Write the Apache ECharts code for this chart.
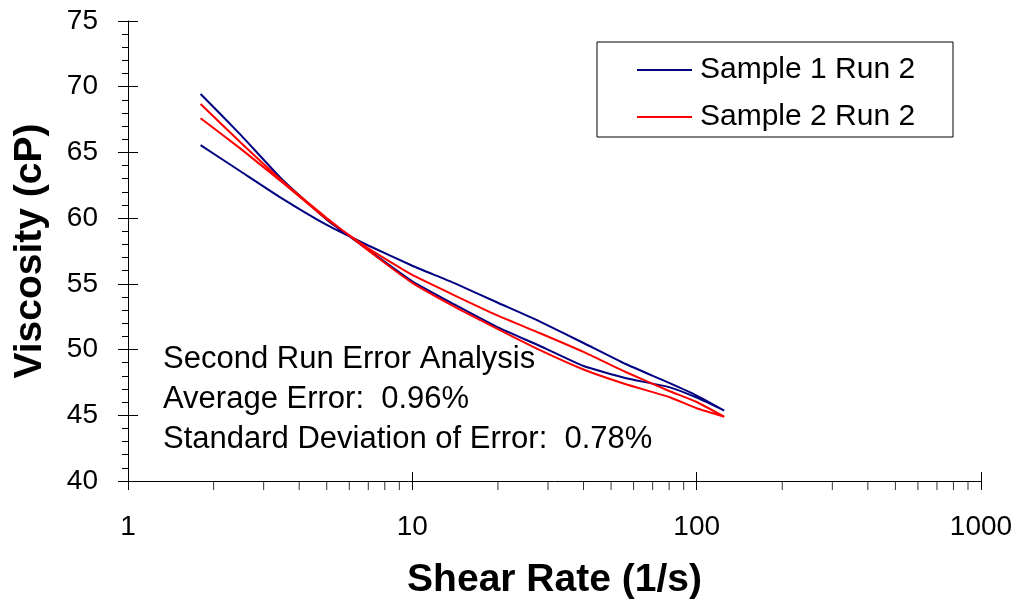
<!DOCTYPE html>
<html>
<head>
<meta charset="utf-8">
<script src="https://cdn.jsdelivr.net/npm/echarts@6/dist/echarts.min.js"></script>
<style>
  html, body { margin: 0; padding: 0; background: #fff; }
  #chart { width: 1023px; height: 609px; }
</style>
</head>
<body>
<div id="chart"></div>
<script>
// Shear rates of the ramp (1/s); each run goes up the ramp and back down
const shearRate = [1.8, 2.5, 3.5, 5, 7, 10, 14, 20, 28, 40, 56, 80, 100, 125];

// Viscosity (cP) on the rising and falling sweep, indexed like shearRate
const sample1Up   = [69.45, 66.30, 62.90, 59.88, 57.58, 55.19, 53.45, 51.69, 50.29, 48.75, 47.84, 47.14, 46.34, 45.36];
const sample1Down = [65.56, 63.53, 61.46, 59.48, 57.92, 56.38, 55.07, 53.56, 52.15, 50.50, 48.92, 47.46, 46.50, 45.36];
const sample2Up   = [68.69, 65.72, 62.80, 60.01, 57.54, 55.07, 53.28, 51.55, 49.97, 48.48, 47.38, 46.39, 45.54, 44.89];
const sample2Down = [67.60, 65.25, 62.70, 59.93, 57.70, 55.68, 54.15, 52.58, 51.26, 49.82, 48.31, 46.85, 46.01, 44.89];

const seriesNames = ['Sample 1 Run 2', 'Sample 2 Run 2'];
const noteLines = [
  'Second Run Error Analysis',
  'Average Error:  0.96%',
  'Standard Deviation of Error:  0.78%'
];

// Minor tick positions on the logarithmic shear-rate axis
const minorTickValues = [2, 3, 4, 5, 6, 7, 8, 9, 20, 30, 40, 50, 60, 70, 80, 90, 200, 300, 400, 500, 600, 700, 800, 900];

const FONT = '"Liberation Sans", Arial, sans-serif';

// Rising sweep followed by the falling sweep; the turning point is shared
function loop(up, down) {
  const pts = up.map((v, i) => [shearRate[i], v]);
  for (let i = down.length - 2; i >= 0; i--) pts.push([shearRate[i], down[i]]);
  return pts;
}

const chart = echarts.init(document.getElementById('chart'), null, { renderer: 'canvas' });

const yBase = { type: 'value', min: 40, max: 75, interval: 5, splitLine: { show: false } };
const xBase = { type: 'log', logBase: 10, min: 1, max: 1000, splitLine: { show: false } };

chart.setOption({
  backgroundColor: '#fff',
  animation: false,
  grid: { left: 128, right: 42, top: 21, bottom: 128, containLabel: false, outerBoundsMode: 'none' },
  xAxis: [
    Object.assign({}, xBase, {
      name: 'Shear Rate (1/s)',
      nameLocation: 'middle',
      nameGap: 80,
      nameTextStyle: { fontFamily: FONT, fontSize: 39, fontWeight: 'bold', color: '#000' },
      axisLine: { show: true, lineStyle: { color: '#000', width: 1 } },
      axisTick: { show: true, length: 9, lineStyle: { color: '#000' } },
      axisLabel: { fontFamily: FONT, fontSize: 28, color: '#000', margin: 32, formatter: v => String(v) }
    }),
    Object.assign({}, xBase, {
      position: 'bottom',
      axisLine: { show: false },
      axisTick: { show: true, inside: true, length: 9, lineStyle: { color: '#000' } },
      axisLabel: { show: false }
    })
  ],
  yAxis: [
    Object.assign({}, yBase, {
      name: 'Viscosity (cP)',
      nameLocation: 'middle',
      nameGap: 78,
      nameTextStyle: { fontFamily: FONT, fontSize: 39, fontWeight: 'bold', color: '#000' },
      axisLine: { show: true, lineStyle: { color: '#000', width: 1 } },
      axisTick: { show: true, length: 10, lineStyle: { color: '#000' } },
      minorTick: { show: true, splitNumber: 5, length: 6, lineStyle: { color: '#000' } },
      axisLabel: { fontFamily: FONT, fontSize: 28, color: '#000', margin: 30 }
    }),
    Object.assign({}, yBase, {
      position: 'left',
      axisLine: { show: false },
      axisTick: { show: true, inside: true, length: 10, lineStyle: { color: '#000' } },
      axisLabel: { show: false }
    })
  ],
  legend: {
    data: seriesNames.map(n => ({ name: n, icon: 'rect' })),
    orient: 'vertical',
    left: 637,
    top: 54,
    padding: 0,
    itemWidth: 55,
    itemHeight: 2,
    itemGap: 15,
    textStyle: { fontFamily: FONT, fontSize: 30, color: '#000', lineHeight: 32, padding: [0, 0, 0, 3] }
  },
  graphic: [
    {
      type: 'rect', z: 1,
      shape: { x: 597, y: 42, width: 356, height: 95 },
      style: { fill: '#fff', stroke: '#000', lineWidth: 1 }
    },
    ...noteLines.map((t, i) => ({
      type: 'text', z: 10,
      x: 163, y: 359 + i * 40,
      style: { text: t, fontFamily: FONT, fontSize: 31, fill: '#000', verticalAlign: 'middle' }
    }))
  ],
  series: [
    {
      name: seriesNames[0], type: 'line', symbol: 'none', smooth: 0.15, z: 3,
      lineStyle: { color: '#000080', width: 2 }, itemStyle: { color: '#000080' },
      data: loop(sample1Up, sample1Down)
    },
    {
      name: seriesNames[1], type: 'line', symbol: 'none', smooth: 0.15, z: 4,
      lineStyle: { color: '#ff0000', width: 2 }, itemStyle: { color: '#ff0000' },
      data: loop(sample2Up, sample2Down)
    },
    {
      name: 'minorTicks', type: 'scatter', silent: true, clip: false, z: 5,
      symbol: 'rect', symbolSize: [1, 9], symbolOffset: [0, 4.5],
      itemStyle: { color: '#000' },
      data: minorTickValues.map(v => [v, 40])
    }
  ]
});
</script>
</body>
</html>
